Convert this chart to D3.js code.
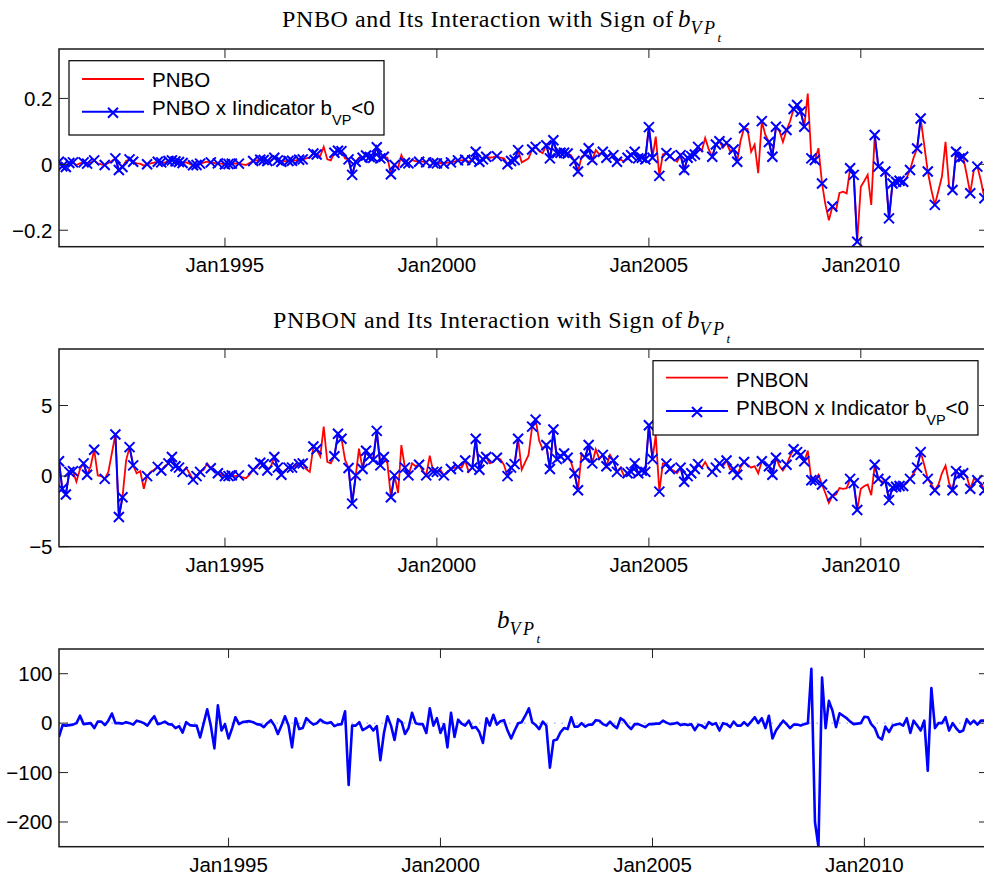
<!DOCTYPE html>
<html>
<head>
<meta charset="utf-8">
<script src="https://cdn.jsdelivr.net/npm/d3@7"></script>
<style>
body { margin: 0; background: #fff; }
svg { display: block; }
.tick-label { font-family: "Liberation Sans", Arial, sans-serif; font-size: 20.5px; fill: #000; }
.legend-text { font-family: "Liberation Sans", Arial, sans-serif; font-size: 20.5px; fill: #000; }
.title { font-family: "Liberation Serif", "Times New Roman", serif; font-size: 24px; fill: #000; }
</style>
</head>
<body>
<div id="chart"></div>
<script>
// PNBO, monthly Feb1991 - Jan2013
var pnbo = [
    0.008, -0.006, -0.008, 0.004, 0.006, -0.002, 0.003, 0.006, 0.002, 0.005, 0.012,          // 1991
    0.003, 0.0, -0.002, 0.004, 0.01, 0.018, -0.017, -0.008, 0.01, 0.015, 0.008, 0.003,      // 1992
    0.002, -0.004, 0.0, 0.003, 0.005, 0.008, 0.006, 0.005, 0.01, 0.012, 0.009, 0.007,       // 1993
    0.004, 0.006, 0.002, -0.003, -0.002, 0.002, 0.005, 0.008, 0.006, 0.004, 0.003, 0.002,   // 1994
    0.0, 0.001, 0.002, 0.003, 0.002, 0.0, -0.002, 0.004, 0.01, 0.012, 0.014, 0.013,         // 1995
    0.01, 0.012, 0.02, 0.012, 0.008, 0.01, 0.01, 0.011, 0.012, 0.014, 0.015, 0.018,         // 1996
    0.02, 0.033, 0.03, 0.025, 0.053, 0.015, 0.012, 0.035, 0.041, 0.04, 0.018, 0.015,        // 1997
    -0.032, 0.008, 0.02, 0.02, 0.027, 0.022, 0.02, 0.052, 0.018, 0.023, 0.02, -0.03,        // 1998
    -0.002, -0.01, 0.028, 0.005, 0.003, 0.013, 0.01, 0.008, 0.008, 0.006, 0.018, 0.004,     // 1999
    0.003, 0.004, 0.002, 0.005, 0.006, 0.008, 0.012, 0.012, 0.014, 0.008, 0.012, 0.038,     // 2000
    0.008, 0.015, 0.023, 0.02, 0.022, 0.025, 0.02, 0.018, 0.0, 0.01, 0.013, 0.043,          // 2001
    0.006, 0.012, 0.018, 0.045, 0.053, 0.04, 0.034, 0.058, 0.018, 0.073, 0.034, 0.035,      // 2002
    0.035, 0.033, 0.028, 0.01, -0.022, 0.023, 0.03, 0.049, 0.013, 0.043, 0.03, 0.038,       // 2003
    0.02, 0.03, 0.028, 0.008, 0.015, 0.008, 0.02, 0.028, 0.038, 0.018, 0.02, 0.015,         // 2004
    0.113, 0.02, 0.084, -0.035, 0.03, 0.034, 0.025, 0.015, 0.008, 0.028, -0.017, 0.02,      // 2005
    0.025, 0.03, 0.053, 0.04, 0.08, 0.045, 0.023, 0.06, 0.07, 0.05, 0.065, 0.04,            // 2006
    0.045, 0.008, 0.07, 0.11, 0.107, 0.038, 0.06, -0.027, 0.131, 0.09, 0.068, 0.023,        // 2007
    0.114, 0.1, 0.068, 0.104, 0.13, 0.168, 0.18, 0.16, 0.114, 0.215, 0.018, 0.013,          // 2008
    0.049, -0.058, -0.12, -0.17, -0.128, -0.14, -0.087, -0.083, -0.088, -0.012, -0.032, -0.235, // 2009
    -0.068, -0.05, -0.032, -0.123, 0.089, -0.007, -0.015, -0.022, -0.164, -0.058, -0.053, -0.05, // 2010
    -0.053, -0.04, -0.017, 0.02, 0.048, 0.139, 0.06, -0.022, -0.078, -0.123, -0.08, -0.037, // 2011
    0.068, -0.068, -0.078, 0.038, 0.018, 0.023, -0.03, -0.088, -0.017, -0.007, -0.05, -0.103, // 2012
    -0.09                                                                                   // 2013
];

// PNBON, same months
var pnbon = [
    1.05, -0.9, -1.3, 0.3, 0.35, -0.4, 0.5, 0.9, 0.1, 0.7, 1.87,             // 1991
    0.05, 0.0, -0.2, 0.3, 1.6, 2.95, -2.9, -1.5, 1.1, 2.05, 0.76, 0.2,       // 1992
    0.35, -0.9, 0.0, 0.3, 0.45, 0.65, 0.4, 0.7, 0.9, 1.35, 0.7, 0.6,         // 1993
    0.3, 0.6, 0.2, -0.25, 0.0, 0.3, 0.45, 0.9, 0.55, 0.4, 0.2, 0.1,          // 1994
    0.0, 0.0, 0.05, 0.0, 0.05, -0.1, -0.15, 0.1, 0.45, 0.6, 0.95, 0.85,      // 1995
    0.4, 0.7, 1.35, 0.6, 0.1, 0.4, 0.6, 0.6, 0.75, 0.85, 0.9, 0.5,           // 1996
    0.3, 2.1, 1.9, 1.4, 3.5, 1.0, 0.9, 1.4, 3.0, 2.65, 1.15, 0.57,           // 1997
    -1.95, 0.05, 1.95, 0.5, 1.8, 1.4, 1.15, 3.2, 0.76, 1.35, 0.9, -1.5,      // 1998
    0.05, -1.2, 2.2, 0.6, 0.05, 0.9, 0.7, 0.8, 0.4, 0.05, 1.45, 0.3,         // 1999
    0.3, 0.45, 0.05, 0.3, 0.5, 0.6, 0.65, 0.6, 1.1, 0.3, 0.6, 2.65,          // 2000
    0.45, 1.2, 1.35, 0.9, 1.0, 1.3, 1.2, 0.8, 0.0, 0.6, 0.85, 2.65,          // 2001
    0.45, 1.0, 1.5, 3.5, 4.0, 2.5, 1.9, 2.2, 0.5, 3.3, 1.2, 1.4,             // 2002
    1.6, 1.3, 1.0, 0.2, -1.0, 1.6, 1.3, 2.2, 0.9, 1.9, 1.2, 1.5,             // 2003
    0.7, 1.5, 1.1, 0.3, 0.6, 0.0, 0.2, 0.3, 0.9, 0.2, 0.4, 0.3,              // 2004
    3.6, 1.2, 2.9, -1.1, 0.9, 0.88, 0.5, 0.4, 0.2, 0.6, -0.4, 0.0,           // 2005
    0.2, 0.5, 0.85, 0.6, 1.0, 0.5, 0.3, 0.6, 0.9, 0.7, 1.1, 0.5,             // 2006
    0.5, 0.1, 0.6, 1.0, 0.8, 0.6, 0.7, 0.2, 1.05, 0.9, 0.7, 0.1,             // 2007
    1.3, 0.7, 0.4, 0.8, 1.4, 1.9, 1.7, 1.5, 1.05, 1.8, -0.3, -0.3,           // 2008
    0.1, -0.6, -1.2, -1.9, -1.4, -1.3, -0.85, -0.9, -0.85, -0.2, -0.5, -2.4, // 2009
    -0.9, -0.7, -0.6, -1.35, 0.8, -0.2, -0.4, -0.35, -1.7, -0.8, -0.75, -0.7, // 2010
    -0.7, -0.5, -0.2, 0.2, 0.6, 1.7, 0.8, -0.2, -0.6, -1.0, -0.6, 0.2,       // 2011
    0.75, -0.5, -1.0, 0.35, 0.1, 0.2, 0.0, -0.9, -0.2, -0.3, -0.5, -1.0,     // 2012
    -0.8                                                                     // 2013
];

// indicator b_VP < 0 (1 = yes), same months
var indicator = [
    1, 1, 1, 1, 1, 0, 0, 1, 1, 0, 1,        // 1991
    0, 0, 1, 0, 0, 1, 1, 1, 0, 1, 1, 0,     // 1992
    0, 0, 1, 0, 0, 1, 1, 0, 1, 1, 1, 1,     // 1993
    1, 0, 0, 1, 1, 1, 0, 0, 1, 0, 1, 0,     // 1994
    1, 1, 1, 0, 1, 0, 0, 0, 1, 0, 1, 1,     // 1995
    1, 0, 1, 1, 1, 0, 1, 1, 0, 1, 1, 0,     // 1996
    0, 1, 1, 0, 0, 0, 0, 1, 1, 1, 0, 1,     // 1997
    1, 1, 0, 1, 1, 1, 1, 1, 1, 1, 0, 1,     // 1998
    1, 0, 0, 1, 1, 0, 0, 1, 0, 1, 0, 1,     // 1999
    1, 0, 1, 0, 1, 0, 1, 0, 1, 0, 1, 1,     // 2000
    1, 1, 1, 0, 0, 1, 0, 0, 1, 1, 1, 1,     // 2001
    0, 0, 0, 1, 1, 0, 0, 1, 1, 1, 1, 1,     // 2002
    1, 1, 0, 1, 1, 0, 1, 1, 1, 0, 0, 1,     // 2003
    1, 0, 1, 1, 0, 0, 1, 1, 1, 1, 1, 1,     // 2004
    1, 1, 0, 1, 0, 1, 1, 0, 0, 1, 1, 1,     // 2005
    1, 1, 1, 0, 0, 0, 1, 1, 1, 0, 1, 0,     // 2006
    1, 1, 0, 1, 0, 0, 0, 0, 1, 0, 1, 1,     // 2007
    1, 0, 0, 1, 0, 1, 1, 1, 1, 0, 1, 1,     // 2008
    0, 1, 0, 0, 1, 0, 0, 0, 0, 1, 1, 1,     // 2009
    0, 0, 0, 0, 1, 1, 0, 1, 1, 1, 1, 1,     // 2010
    1, 0, 1, 0, 1, 1, 0, 1, 0, 1, 0, 0,     // 2011
    0, 0, 1, 1, 1, 1, 0, 1, 0, 1, 0, 1,     // 2012
    1                                       // 2013
];

// b_VP, monthly Jan1991 - Dec2012
var bvp = [
    -28, -4, -5, -4, -3, 0, 15, -2, -1, 0, -10, 3,          // 1991
    3, -4, 5, 19.5, 0, 0, -1, 2, 0, -3, 5, 3,               // 1992
    0, -5, 5, 14, -2, 0, 3, -2, -3, -10, -6, -19,           // 1993
    2, -4, -5, -5, -29, 0, 28, -5, -51, 36, -15, -2,        // 1994
    -31, -10, 12, -2, 2, 3, 4, 2, -2, -3, -8, 0,            // 1995
    6, -5, -22, -5, 14, -5, -49, 10, -12, -10, 10, 3,       // 1996
    -3, 0, 7, 2, 0, 2, -6, -3, -2, 24, -125, -5,            // 1997
    -5, 2, -14, -10, -5, -15, -6, -75, -20, 14, -5, -34,    // 1998
    8, 2, -22, -10, 21, 0, -2, -2, -20, 30, -5, 10,         // 1999
    -20, -2, -49, 21, -28, 7, -1, -5, 5, -10, -8, -18,      // 2000
    -40, 10, -5, 17, -3, 4, 6, -15, -31, -15, 0, 2,         // 2001
    15, 30, 2, -4, -12, 3, -5, -90, -35, -33, -18, -10,     // 2002
    -12, 12, -7, -7, 0, -7, -3, -3, 6, 5, -2, -5,           // 2003
    3, -5, -10, 10, 5, -5, -12, -2, -2, -5, -8, -2,         // 2004
    -2, -1, -1, 5, 1, -2, -1, 1, -4, -2, -4, -2,            // 2005
    -14, -3, -5, -10, 2, -3, 0, -15, 0, -2, -8, 3,          // 2006
    -5, -5, 2, -5, 3, 12, 0, 10, -10, 15, -31, -15,         // 2007
    -5, 5, -2, -10, -3, -3, -5, -2, 0, 110, -200, -250,     // 2008
    92, -10, 45, 25, -8, 20, 15, 10, 3, -2, -1, 0,          // 2009
    13, 12, -2, -10, -28, -33, -7, -18, -5, -3, -1, -5,     // 2010
    10, -20, 5, -5, -15, 5, -96, 71, -10, 0, 0, 12,         // 2011
    -15, 0, -10, -18, -15, 8, -2, 5, -3, 5, 5, 4            // 2012
];

var tickYears = [1995, 2000, 2005, 2010];
var tickLabels = ["Jan1995", "Jan2000", "Jan2005", "Jan2010"];

var svgWidth = 984;
var svgHeight = 884;
var plotLeft = 59;
var plotRight = 988;
var plotHeight = 197.7;

var svg = d3.select("#chart")
    .append("svg")
    .attr("width", svgWidth)
    .attr("height", svgHeight)
    .style("background", "#fff");

var pnboDates = pnbo.map((d, i) => d3.timeMonth.offset(new Date(1991, 1, 1), i));
var bvpDates = bvp.map((d, i) => d3.timeMonth.offset(new Date(1991, 0, 1), i));

function fmt(v) {
    return String(v).replace("-", "\u2212");
}

// box, mirrored ticks and tick labels, MATLAB style
function drawFrame(g, x, y, yTicks, top) {
    var bottom = top + plotHeight;
    var tickLen = 9;
    tickYears.forEach(function (yr, k) {
        var tx = x(new Date(yr, 0, 1));
        g.append("line").attr("x1", tx).attr("x2", tx).attr("y1", bottom).attr("y2", bottom - tickLen)
            .attr("stroke", "#222").attr("stroke-width", 1);
        g.append("line").attr("x1", tx).attr("x2", tx).attr("y1", top).attr("y2", top + tickLen)
            .attr("stroke", "#222").attr("stroke-width", 1);
        g.append("text").attr("class", "tick-label")
            .attr("x", tx).attr("y", bottom + 25.5)
            .attr("text-anchor", "middle")
            .text(tickLabels[k]);
    });
    yTicks.forEach(function (v) {
        var ty = y(v);
        g.append("line").attr("x1", plotLeft).attr("x2", plotLeft + tickLen).attr("y1", ty).attr("y2", ty)
            .attr("stroke", "#222").attr("stroke-width", 1);
        g.append("line").attr("x1", plotRight).attr("x2", plotRight - tickLen).attr("y1", ty).attr("y2", ty)
            .attr("stroke", "#222").attr("stroke-width", 1);
        g.append("text").attr("class", "tick-label")
            .attr("x", plotLeft - 6.5).attr("y", ty + 7.3)
            .attr("text-anchor", "end")
            .text(fmt(v));
    });
    g.append("rect")
        .attr("x", plotLeft).attr("y", top)
        .attr("width", plotRight - plotLeft).attr("height", plotHeight)
        .attr("fill", "none").attr("stroke", "#1a1a1a").attr("stroke-width", 1.5);
}

function addClip(id, top) {
    svg.append("clipPath").attr("id", id)
        .append("rect")
        .attr("x", plotLeft).attr("y", top)
        .attr("width", plotRight - plotLeft).attr("height", plotHeight);
}

function addTitle(yBase, xStart, main, mainWidth) {
    var mx = xStart;
    if (main) {
        svg.append("text").attr("class", "title")
            .attr("x", xStart).attr("y", yBase)
            .attr("textLength", mainWidth).attr("lengthAdjust", "spacing")
            .text(main);
        mx = xStart + mainWidth + 5;
    }
    var t = svg.append("text").attr("class", "title")
        .attr("x", mx).attr("y", yBase);
    t.append("tspan").attr("font-style", "italic").attr("font-size", "25px").text("b");
    t.append("tspan").attr("font-style", "italic").attr("font-size", "18px")
        .attr("letter-spacing", "2.5px").attr("dy", 7).text("VP");
    t.append("tspan").attr("font-style", "italic").attr("font-size", "13px").attr("dy", 8).text("t");
}

var cross = "M-5,-5L5,5M-5,5L5,-5";

// panel with red series and blue masked series
function drawPairPanel(top, values, yDomain, yTicks, clipId) {
    var x = d3.scaleTime().domain([pnboDates[0], pnboDates[pnboDates.length - 1]]).range([plotLeft, plotRight]);
    var y = d3.scaleLinear().domain(yDomain).range([top + plotHeight, top]);
    var g = svg.append("g");
    addClip(clipId, top);

    var series = values.map((v, i) => ({ date: pnboDates[i], v: v }));
    var masked = values.map((v, i) => ({ date: pnboDates[i], v: indicator[i] ? v : null }));

    var line = d3.line()
        .defined(d => d.v != null)
        .x(d => x(d.date))
        .y(d => y(d.v));

    var plot = g.append("g").attr("clip-path", `url(#${clipId})`);
    plot.append("path")
        .datum(series)
        .attr("d", line)
        .attr("fill", "none")
        .attr("stroke", "#ff0000")
        .attr("stroke-width", 1.8);
    plot.append("path")
        .datum(masked)
        .attr("d", line)
        .attr("fill", "none")
        .attr("stroke", "#0000ff")
        .attr("stroke-width", 2);
    plot.selectAll(".mk")
        .data(masked.filter(d => d.v != null))
        .enter()
        .append("path")
        .attr("class", "mk")
        .attr("d", cross)
        .attr("transform", d => `translate(${x(d.date)},${y(d.v)})`)
        .attr("fill", "none")
        .attr("stroke", "#0000ff")
        .attr("stroke-width", 2);

    drawFrame(g, x, y, yTicks, top);
    return g;
}

function drawLegend(box, rows) {
    var lg = svg.append("g");
    lg.append("rect")
        .attr("x", box.x).attr("y", box.y).attr("width", box.w).attr("height", box.h)
        .attr("fill", "#fff").attr("stroke", "#000").attr("stroke-width", 1.2);
    rows.forEach(function (r) {
        lg.append("line")
            .attr("x1", box.x + 13).attr("x2", box.x + 75)
            .attr("y1", r.ly).attr("y2", r.ly)
            .attr("stroke", r.color).attr("stroke-width", r.marker ? 2 : 1.8);
        if (r.marker) {
            lg.append("path").attr("d", cross)
                .attr("transform", `translate(${box.x + 44},${r.ly + 1})`)
                .attr("fill", "none").attr("stroke", r.color).attr("stroke-width", 2);
        }
        var t = lg.append("text").attr("class", "legend-text")
            .attr("x", box.x + 83).attr("y", r.ty);
        t.append("tspan").text(r.label);
        if (r.sub) {
            t.append("tspan").attr("font-size", "14.5px").attr("dy", 10).text(r.sub);
            t.append("tspan").attr("dy", -10).text(r.after);
        }
    });
}

// panel 1
addTitle(26.5, 282, "PNBO and Its Interaction with Sign of", 391);
drawPairPanel(49, pnbo, [-0.25, 0.35], [-0.2, 0, 0.2], "clip1");
drawLegend({ x: 69, y: 60.7, w: 315, h: 74.3 }, [
    { color: "#ff0000", ly: 79, ty: 87, label: "PNBO" },
    { color: "#0000ff", ly: 111.7, ty: 115, label: "PNBO x Iindicator b", sub: "VP", after: "<0", marker: true }
]);

// panel 2
addTitle(328, 273, "PNBON and Its Interaction with Sign of", 409);
drawPairPanel(349, pnbon, [-5, 9], [-5, 0, 5], "clip2");
drawLegend({ x: 653, y: 360.7, w: 325, h: 74.3 }, [
    { color: "#ff0000", ly: 377.7, ty: 386.7, label: "PNBON" },
    { color: "#0000ff", ly: 411, ty: 415, label: "PNBON x Indicator b", sub: "VP", after: "<0", marker: true }
]);

// panel 3
addTitle(628, 497, null, 0);
(function () {
    var top = 649;
    var x = d3.scaleTime().domain([bvpDates[0], bvpDates[bvpDates.length - 1]]).range([plotLeft, plotRight]);
    var y = d3.scaleLinear().domain([-250, 150]).range([top + plotHeight, top]);
    var g = svg.append("g");
    addClip("clip3", top);
    var plot = g.append("g").attr("clip-path", "url(#clip3)");
    plot.append("line")
        .attr("x1", plotLeft).attr("x2", plotRight)
        .attr("y1", y(0)).attr("y2", y(0))
        .attr("stroke", "#7f8cff").attr("stroke-width", 1)
        .attr("stroke-dasharray", "1.5,6");
    var line = d3.line()
        .x((d, i) => x(bvpDates[i]))
        .y(d => y(d));
    plot.append("path")
        .datum(bvp)
        .attr("d", line)
        .attr("fill", "none")
        .attr("stroke", "#0000ff")
        .attr("stroke-width", 2.6)
        .attr("stroke-linejoin", "round");
    drawFrame(g, x, y, [-200, -100, 0, 100], top);
})();
</script>
</body>
</html>
